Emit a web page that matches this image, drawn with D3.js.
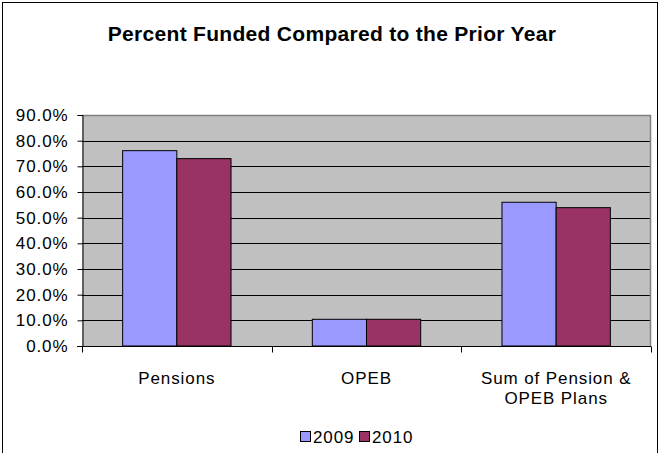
<!DOCTYPE html>
<html>
<head>
<meta charset="utf-8">
<script src="https://cdn.jsdelivr.net/npm/d3@7"></script>
<style>
  html, body { margin: 0; padding: 0; background: #fff; }
  svg { display: block; }
  text { font-family: "Liberation Sans", Arial, sans-serif; fill: #000; }
</style>
</head>
<body>
<svg id="chart" width="660" height="453"></svg>
<script>
// Percent funded, by plan type and year
const categories = ["Pensions", "OPEB", "Sum of Pension & OPEB Plans"];
const categoryLines = [["Pensions"], ["OPEB"], ["Sum of Pension &", "OPEB Plans"]];
const years = ["2009", "2010"];
const values2009 = [0.761, 0.104, 0.560];
const values2010 = [0.730, 0.104, 0.539];
const yTicks = [0, 0.1, 0.2, 0.3, 0.4, 0.5, 0.6, 0.7, 0.8, 0.9];
const seriesColors = ["#9999FF", "#993366"];

const series = [values2009, values2010];
const svg = d3.select("#chart");
const labelSize = 17;
const labelSpacing = 0.9;

// Outer chart frame
svg.append("rect")
  .attr("x", 2.5).attr("y", 2.5)
  .attr("width", 655).attr("height", 470)
  .attr("fill", "none").attr("stroke", "#000").attr("stroke-width", 1);

const plot = { left: 82, right: 651, top: 115, bottom: 346 };

const x = d3.scaleBand()
  .domain(categories)
  .range([plot.left, plot.right])
  .paddingInner(0).paddingOuter(0);

// Two bars per group; the gap on each side is 0.75 of a bar
const xInner = d3.scaleBand()
  .domain(years)
  .range([0, x.bandwidth()])
  .paddingInner(0)
  .paddingOuter(0.75);

const y = d3.scaleLinear().domain([0, 0.9]).range([plot.bottom, plot.top]);

// Plot area background
svg.append("rect")
  .attr("x", plot.left).attr("y", plot.top)
  .attr("width", plot.right - plot.left).attr("height", plot.bottom - plot.top)
  .attr("fill", "#C0C0C0");

// Horizontal gridlines
svg.append("g")
  .selectAll("line")
  .data(yTicks.filter(t => t > 0 && t < 0.9))
  .join("line")
  .attr("x1", plot.left).attr("x2", plot.right)
  .attr("y1", d => Math.round(y(d)) + 0.5).attr("y2", d => Math.round(y(d)) + 0.5)
  .attr("stroke", "#000").attr("stroke-width", 1);

// Plot area border (top and right)
svg.append("path")
  .attr("d", `M${plot.left},${plot.top + 0.5}H${plot.right - 0.5}V${plot.bottom}`)
  .attr("fill", "none").attr("stroke", "#808080").attr("stroke-width", 1.5);

// Bars
const groups = svg.append("g")
  .selectAll("g")
  .data(categories)
  .join("g")
  .attr("transform", d => `translate(${x(d)},0)`);

groups.selectAll("rect")
  .data((d, i) => years.map((yr, s) => ({ yr, s, v: series[s][i] })))
  .join("rect")
  .attr("x", d => xInner(d.yr))
  .attr("width", xInner.bandwidth())
  .attr("y", d => y(d.v))
  .attr("height", d => y(0) - y(d.v))
  .attr("fill", d => seriesColors[d.s])
  .attr("stroke", "#000").attr("stroke-width", 1);

// Y axis
const yAxis = d3.axisLeft(y)
  .tickValues(yTicks)
  .tickFormat(d3.format(".1%"))
  .tickSize(5)
  .tickPadding(9);

const gy = svg.append("g")
  .attr("transform", `translate(${plot.left + 0.5},0)`)
  .call(yAxis);
gy.select(".domain").attr("stroke", "#000");
gy.selectAll(".tick line").attr("stroke", "#000");
gy.selectAll(".tick text")
  .attr("font-size", labelSize)
  .attr("letter-spacing", labelSpacing)
  .attr("font-family", "Liberation Sans, Arial, sans-serif")
  .attr("fill", "#000");

// X axis: baseline and ticks between categories
const gx = svg.append("g")
  .attr("transform", `translate(0,${plot.bottom + 0.5})`);
gx.append("line")
  .attr("x1", plot.left - 5).attr("x2", plot.right)
  .attr("stroke", "#000");
const boundaries = categories.map(c => x(c)).concat([x(categories[categories.length - 1]) + x.bandwidth()]);
gx.selectAll("line.sep")
  .data(boundaries)
  .join("line")
  .attr("class", "sep")
  .attr("x1", d => Math.round(d) + 0.5).attr("x2", d => Math.round(d) + 0.5)
  .attr("y1", 0).attr("y2", 6)
  .attr("stroke", "#000");

// Category labels
const labels = svg.append("g")
  .selectAll("text")
  .data(categories)
  .join("text")
  .attr("x", d => x(d) + x.bandwidth() / 2)
  .attr("y", 384)
  .attr("text-anchor", "middle")
  .attr("font-size", labelSize)
  .attr("letter-spacing", labelSpacing);
labels.each(function(d, i) {
  d3.select(this).selectAll("tspan")
    .data(categoryLines[i])
    .join("tspan")
    .attr("x", x(d) + x.bandwidth() / 2)
    .attr("dy", (t, j) => j === 0 ? 0 : 20)
    .text(t => t);
});

// Title
svg.append("text")
  .attr("x", 332).attr("y", 41)
  .attr("text-anchor", "middle")
  .attr("font-size", 21)
  .attr("letter-spacing", 0.3)
  .attr("font-weight", "bold")
  .text("Percent Funded Compared to the Prior Year");

// Legend
const legend = svg.append("g").attr("transform", "translate(300,443)");
const legendItems = legend.selectAll("g")
  .data(years)
  .join("g")
  .attr("transform", (d, i) => `translate(${i * 59},0)`);
legendItems.append("rect")
  .attr("x", 0.5).attr("y", -11.5)
  .attr("width", 10).attr("height", 10)
  .attr("fill", (d, i) => seriesColors[i])
  .attr("stroke", "#000");
legendItems.append("text")
  .attr("x", 13).attr("y", 0)
  .attr("font-size", labelSize)
  .attr("letter-spacing", labelSpacing)
  .text(d => d);
</script>
</body>
</html>
